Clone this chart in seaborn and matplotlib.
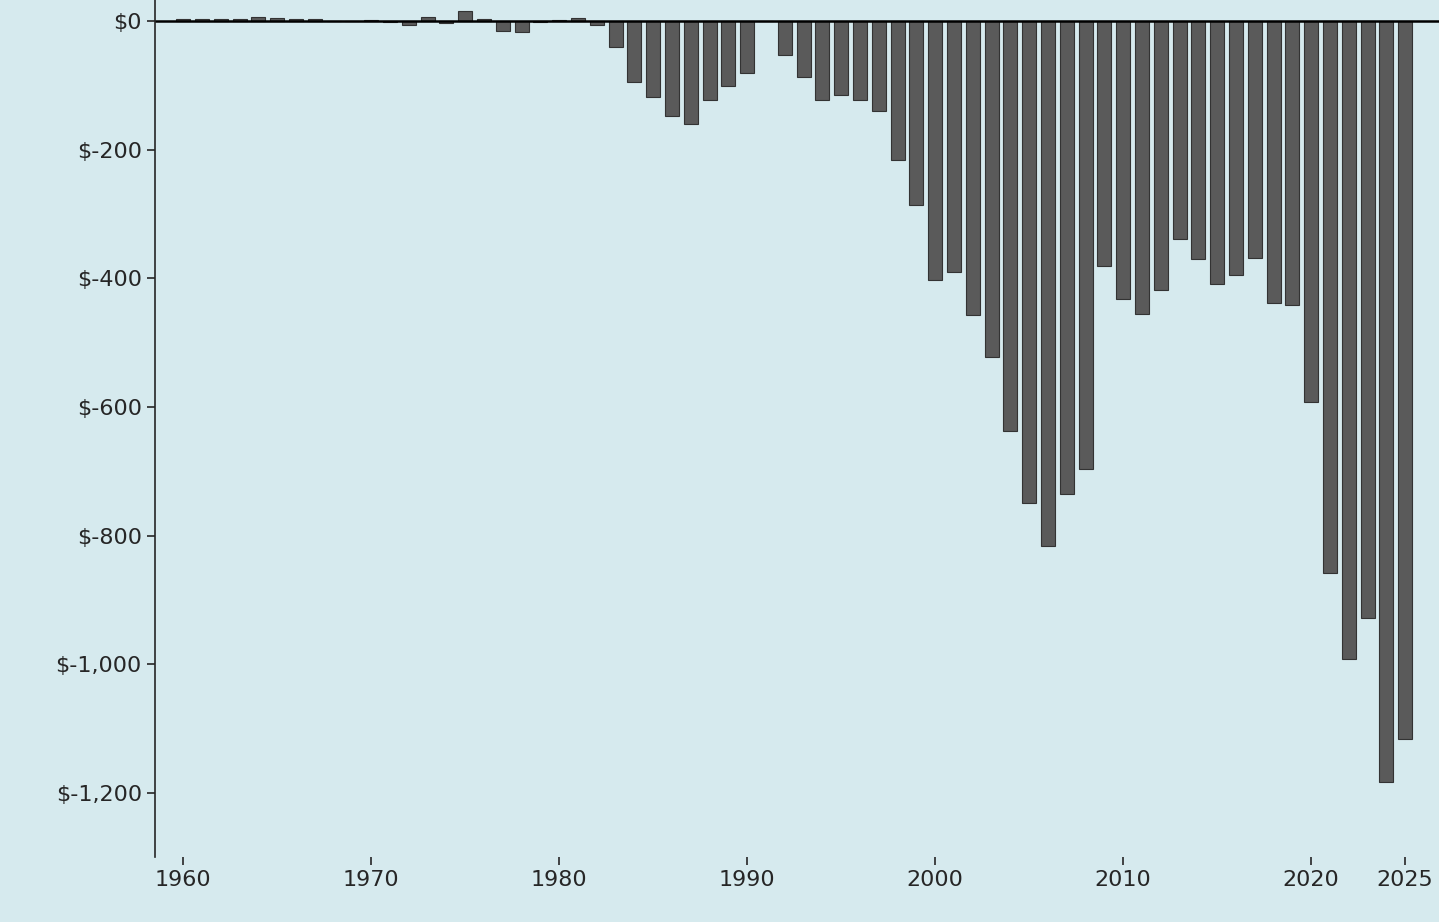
import matplotlib
matplotlib.use("Agg")
import matplotlib.pyplot as plt
import seaborn as sns
import numpy as np

years = list(range(1960, 2026))
balance = [3, 4, 3, 4, 7, 5, 3, 3, 0.5, 0.6, 2, -1, -6, 6, -2, 16, 3, -15, -16, -1,
           2, 5, -6, -40, -95, -118, -147, -160, -122, -100, -80, 1, -52, -86, -122, -114,
           -123, -140, -216, -286, -403, -390, -457, -522, -637, -750, -816, -736, -696, -380,
           -432, -456, -418, -338, -370, -408, -394, -368, -438, -442, -593, -858, -992, -928,
           -1183, -1116]
xticks = [1960, 1970, 1980, 1990, 2000, 2010, 2020, 2025]
yticks = [0, -200, -400, -600, -800, -1000, -1200]

bg = "#d6eaee"
sns.set_style("ticks")
plt.rcParams['font.family'] = ['DejaVu Sans']
fig = plt.figure(figsize=(14.39, 9.22), dpi=100, facecolor=bg)
ax = fig.add_axes([0.1077, 0.0705, 0.8923, 0.9295], facecolor=bg)
sns.barplot(x=years, y=balance, native_scale=True, color="#5a5a5a", saturation=1,
            edgecolor="#333333", linewidth=0.8, width=0.75, ax=ax)
ax.axhline(0, color="black", lw=1.8)
ax.set_xlim(1958.5, 2026.8)
ax.set_ylim(-1300, 33)
ax.set_xticks(xticks)
ax.set_xticklabels([str(t) for t in xticks], fontsize=16)
ax.set_yticks(yticks)
ax.set_yticklabels(["$0" if v == 0 else f"$-{abs(v):,}" for v in yticks], fontsize=16)
for s in ["top", "right", "bottom"]:
    ax.spines[s].set_visible(False)
ax.spines["left"].set_linewidth(1.2)
ax.tick_params(length=6, width=1.2)
fig.savefig("out.png", dpi=100, facecolor=bg)
